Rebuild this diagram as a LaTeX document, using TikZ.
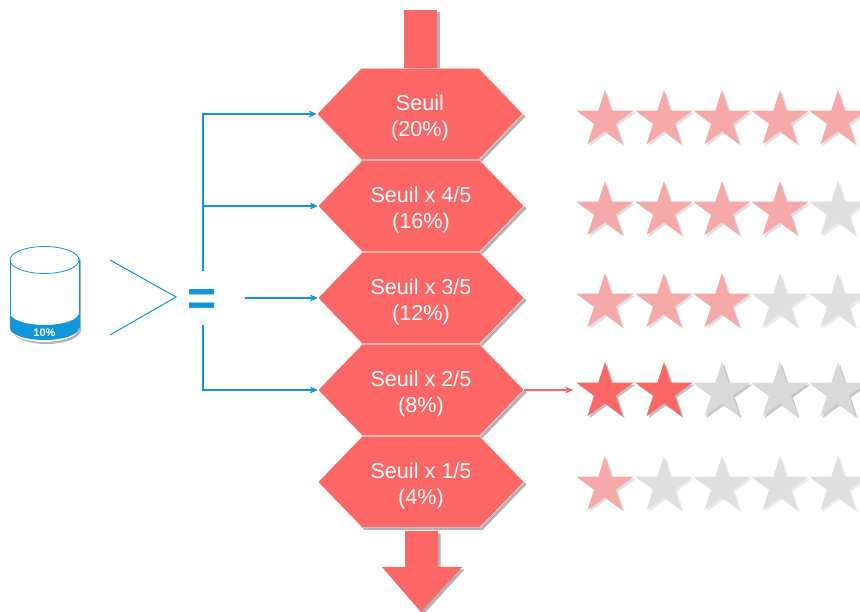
\documentclass[tikz,border=0pt]{standalone}
\usepackage{fontspec}
\setmainfont{Liberation Sans}
\usetikzlibrary{arrows.meta,shapes.geometric,shapes.symbols,shadows}
\definecolor{seuilred}{HTML}{FF6666}
\definecolor{fadedred}{HTML}{F5A9A9}
\definecolor{linkblue}{HTML}{1296DB}
\definecolor{stargrey}{HTML}{D9D9D9}
\definecolor{fadedgrey}{HTML}{DFDFDF}
\begin{document}
\begin{tikzpicture}
  [
    x=1pt, y=1pt,
    redshadow/.style={drop shadow={shadow xshift=2.5pt, shadow yshift=-2.5pt, fill=black!30, opacity=1}},
    seuilbox/.style={signal, signal to=west and east, signal pointer angle=92, draw=white, fill=seuilred,
      text=white, minimum width=206pt, minimum height=91pt, inner sep=0pt, align=center, text height=50pt,
      font=\fontsize{21.6}{26}\selectfont, redshadow},
    seuilpart/.style={fill=seuilred, redshadow},
    link/.style={draw=linkblue, line width=1.2pt, -{Stealth[length=8pt, width=7pt]}},
    starbase/.style={star, star points=5, star point ratio=2.62, minimum size=60pt, inner sep=0pt},
    redstar/.style={starbase, fill=seuilred, drop shadow={shadow xshift=2pt, shadow yshift=-2pt, fill=black!25, opacity=1}},
    greystar/.style={starbase, fill=stargrey, drop shadow={shadow xshift=2pt, shadow yshift=-2pt, fill=black!22, opacity=1}},
    redfaded/.style={starbase, fill=fadedred, drop shadow={shadow xshift=2pt, shadow yshift=-2pt, fill=black!12, opacity=1}},
    greyfaded/.style={starbase, fill=fadedgrey, drop shadow={shadow xshift=2pt, shadow yshift=-2pt, fill=black!8, opacity=1}},
  ]
    \clip (0,0) rectangle (860,612);

    % column
    \fill [seuilpart] (404,602) rectangle (437,544);
    \fill [seuilpart] (405,81) -- (438,81) -- (438,45) -- (462,45) -- (421,0) -- (382,45) -- (405,45) -- cycle;

    % hexagons
    \node [seuilbox] (hexa) at (420,498) {Seuil\\(20\%)};
    \node [seuilbox] (hexb) at (421,406) {Seuil x 4/5\\(16\%)};
    \node [seuilbox] (hexc) at (421,314) {Seuil x 3/5\\(12\%)};
    \node [seuilbox] (hexd) at (421,222) {Seuil x 2/5\\(8\%)};
    \node [seuilbox] (hexe) at (421,130) {Seuil x 1/5\\(4\%)};

    % stars
    \foreach \r/\y/\n/\on/\off in {1/492/5/redfaded/greyfaded,2/401/4/redfaded/greyfaded,3/309/3/redfaded/greyfaded,4/220/2/redstar/greystar,5/126/1/redfaded/greyfaded} {
      \foreach \i/\x in {1/605,2/664,3/722,4/780,5/838} {
        \ifnum\i>\n \def\kind{\off}\else \def\kind{\on}\fi
        \node [\kind] (star\r\i) at (\x,\y) {};
      }
    }

    % cylinder
    \fill [black!30] (12,350) -- (12,282) arc (180:360:34.5 and 14) -- (81,350) arc (0:180:34.5 and 14);
    \fill [white] (10,352) -- (10,284) arc (180:360:34.5 and 14) -- (79,352) arc (0:180:34.5 and 14);
    \fill [linkblue] (10,299) arc (180:360:34.5 and 12) -- (79,284) arc (360:180:34.5 and 12) -- cycle;
    \draw [linkblue, line width=.8pt] (10,352) -- (10,284);
    \draw [linkblue, line width=.8pt] (79,352) -- (79,284);
    \draw [linkblue, line width=.8pt] (44.5,352) ellipse (34.5 and 13.5);
    \node [text=white, font=\fontsize{11}{11}\bfseries\selectfont, inner sep=0pt] (pct) at (44.5,279) {10\%};

    % greater or equal
    \coordinate (gtop) at (110,352);
    \coordinate (gtip) at (176,315);
    \coordinate (gbot) at (110,277);
    \draw [linkblue, line width=1pt] (gtop) -- (gtip) -- (gbot);
    \node [text=linkblue, font=\fontsize{50}{50}\bfseries\selectfont, inner sep=0pt] (equal) at (202,309) {=};

    % links
    \coordinate (upper) at (203,341);
    \coordinate (middle) at (245,314);
    \coordinate (lower) at (203,287);
    \coordinate (rate) at (573,222);
    \draw [link] (upper) |- (hexa.west);
    \draw [link] (upper) |- (hexb.west);
    \draw [link] (middle) -- (hexc.west);
    \draw [link] (lower) |- (hexd.west);
    \draw [draw=seuilred, line width=1.2pt, -{Stealth[length=8pt, width=7pt]}] (hexd.east) -- (rate);
\end{tikzpicture}
\end{document}
